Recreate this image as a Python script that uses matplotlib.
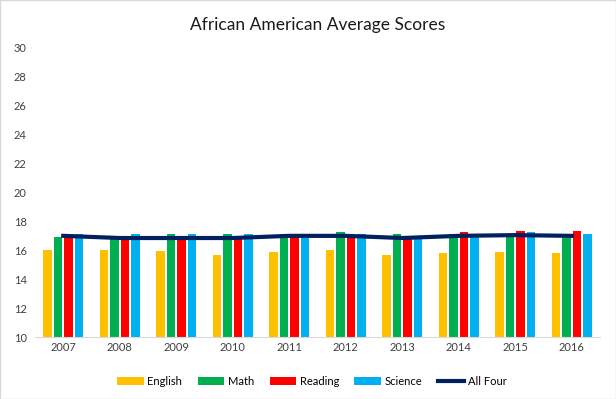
import numpy as np
import matplotlib.pyplot as plt

years = ["2007", "2008", "2009", "2010", "2011", "2012", "2013", "2014", "2015", "2016"]
english = [16.0, 16.0, 15.95, 15.7, 15.9, 16.0, 15.7, 15.8, 15.9, 15.8]
math_ = [16.9, 16.8, 17.1, 17.1, 17.15, 17.3, 17.15, 17.15, 17.1, 17.0]
reading = [17.1, 16.8, 16.8, 16.8, 16.9, 17.15, 16.8, 17.3, 17.35, 17.35]
science = [17.15, 17.15, 17.15, 17.15, 17.0, 17.15, 16.8, 17.0, 17.3, 17.15]
all_four = [17.0, 16.85, 16.85, 16.85, 17.0, 17.0, 16.85, 17.0, 17.05, 17.0]

plt.rcParams['font.family'] = ['Lato', 'DejaVu Sans']

fig = plt.figure(figsize=(6.16, 3.99), dpi=100)
ax = fig.add_axes([35 / 616, 62 / 399, 565 / 616, 289 / 399])

x = np.arange(len(years))
w = 0.15
pitch = 0.185
series = [("English", english, "#FFC000"), ("Math", math_, "#00B050"),
          ("Reading", reading, "#FF0000"), ("Science", science, "#00B0F0")]
for i, (name, vals, col) in enumerate(series):
    ax.bar(x + (i - 1.5) * pitch, np.array(vals) - 10, w, bottom=10, color=col, label=name, zorder=2)

ax.plot(x, all_four, color="#002060", lw=3, label="All Four", zorder=3)

ax.set_xlim(-0.5, len(years) - 0.5)
ax.set_ylim(10, 30)
ax.set_yticks(range(10, 31, 2))
ax.set_xticks(x)
ax.set_xticklabels(years)
ax.tick_params(length=0, labelsize=8, colors="#404040")
ax.tick_params(axis="y", pad=6)
for s in ["top", "right", "left"]:
    ax.spines[s].set_visible(False)
ax.spines["bottom"].set_color("#D9D9D9")

ax.set_title("African American Average Scores", fontsize=12.5, color="#1a1a1a", pad=13)

handles, labels = ax.get_legend_handles_labels()
handles = handles[1:] + handles[:1]
labels = labels[1:] + labels[:1]
ax.legend(handles, labels, loc="upper center", bbox_to_anchor=(0.49, -0.1), ncol=5, frameon=False,
          fontsize=8, handlelength=2.4, handleheight=0.6, columnspacing=1.4, handletextpad=0.3)

fig.patches.append(plt.Rectangle((0, 0), 1, 1, transform=fig.transFigure, fill=False,
                                 edgecolor="#D9D9D9", lw=1))

fig.savefig("out.png", dpi=100)
